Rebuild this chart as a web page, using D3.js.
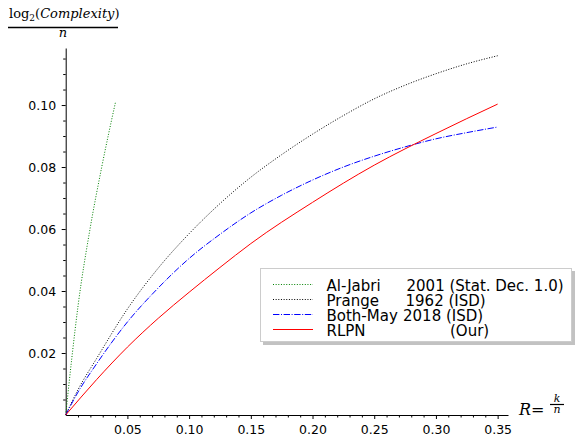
<!DOCTYPE html>
<html>
<head>
<meta charset="utf-8">
<script src="https://d3js.org/d3.v7.min.js"></script>
<style>
  body { margin: 0; background: #fff; }
  svg { display: block; }
  text { font-family: "DejaVu Sans", sans-serif; }
  .math { font-family: "DejaVu Serif", serif; }
</style>
</head>
<body>
<svg width="578" height="436"></svg>
<script>
// R = k/n on x, log2(complexity)/n on y
const alJabriR = [0, 0.005, 0.0101, 0.0197, 0.0292, 0.0405];
const alJabriV = [0, 0.0185, 0.0355, 0.060, 0.080, 0.1012];

const rates = [0, 0.01, 0.025, 0.05, 0.075, 0.1, 0.125, 0.15, 0.175, 0.2, 0.225, 0.25, 0.275, 0.3, 0.325, 0.35];
const prangeV = [0, 0.0082, 0.0182, 0.0342, 0.0474, 0.0585, 0.0682, 0.0767, 0.0840, 0.0906, 0.0966, 0.1020, 0.1064, 0.1101, 0.1133, 0.1159];
const bothMayV = [0, 0.0074, 0.0165, 0.0300, 0.0410, 0.0505, 0.0583, 0.0652, 0.0709, 0.0758, 0.0800, 0.0835, 0.0865, 0.0891, 0.0911, 0.0929];

const rlpnR = [0, 0.025, 0.05, 0.075, 0.1, 0.125, 0.15, 0.2, 0.25, 0.3, 0.35];
const rlpnV = [0, 0.0114, 0.0219, 0.0312, 0.0396, 0.0476, 0.0553, 0.0686, 0.0806, 0.0908, 0.1003];

const legendNames = ["Al-Jabri", "Prange", "Both-May", "RLPN"];
const legendInfo = ["2001 (Stat. Dec. 1.0)", "1962 (ISD)", "2018 (ISD)", "(Our)"];

const xMajor = [0.05, 0.10, 0.15, 0.20, 0.25, 0.30, 0.35];
const yMajor = [0.02, 0.04, 0.06, 0.08, 0.10];

const svg = d3.select("svg");

const x = d3.scaleLinear().domain([0, 0.3584]).range([65.7, 508]);
const y = d3.scaleLinear().domain([0, 0.1184]).range([415, 48]);

// minor ticks
const xMinor = d3.range(1, 36).map(i => i / 100).filter(v => Math.round(v * 100) % 5 !== 0);
const yMinor = d3.range(1, 24).map(i => i / 200).filter(v => Math.round(v * 200) % 4 !== 0);

const gx = svg.append("g").attr("transform", `translate(0,${y(0)})`);
gx.call(d3.axisBottom(x).tickValues(xMajor).tickSize(4).tickSizeOuter(0)
    .tickPadding(6).tickFormat(d3.format(".2f")));
gx.append("g").call(d3.axisBottom(x).tickValues(xMinor).tickSize(2.5).tickFormat(""))
  .select(".domain").remove();

const gy = svg.append("g").attr("transform", `translate(${x(0)},0)`);
gy.call(d3.axisLeft(y).tickValues(yMajor).tickSize(4).tickSizeOuter(0)
    .tickPadding(5.5).tickFormat(d3.format(".2f")));
gy.append("g").call(d3.axisLeft(y).tickValues(yMinor).tickSize(2.5).tickFormat(""))
  .select(".domain").remove();

svg.selectAll(".tick text").attr("font-size", 12.5).attr("font-family", "DejaVu Sans").attr("fill", "#000");
svg.selectAll(".tick line").attr("stroke", "#000");

const line = d3.line().x(d => x(d[0])).y(d => y(d[1])).curve(d3.curveMonotoneX);

const series = [
  {r: alJabriR, v: alJabriV, color: "#008000", dash: "1,1.65"},
  {r: rates, v: prangeV, color: "#000000", dash: "1,1.65"},
  {r: rates, v: bothMayV, color: "#0000ff", dash: "6.4,1.6,1,1.6"},
  {r: rlpnR, v: rlpnV, color: "#ff0000", dash: null}
];

svg.selectAll(".curve")
  .data(series)
  .enter().append("path")
  .attr("class", "curve")
  .attr("d", s => line(s.r.map((r, i) => [r, s.v[i]])))
  .attr("fill", "none")
  .attr("stroke", s => s.color)
  .attr("stroke-width", 1)
  .attr("stroke-dasharray", s => s.dash);

// legend
const lg = svg.append("g");
lg.append("rect").attr("x", 263).attr("y", 271).attr("width", 312).attr("height", 74)
  .attr("fill", "#999").attr("opacity", 0.6);
lg.append("rect").attr("x", 260.5).attr("y", 268.5).attr("width", 311).attr("height", 73)
  .attr("fill", "#fff").attr("stroke", "#ccc");
const infoX = [406.5, 405.5, 403, 450];
series.forEach((s, i) => {
  const base = 291 + i * 15;
  lg.append("line").attr("x1", 273).attr("x2", 313).attr("y1", base - 6.5).attr("y2", base - 6.5)
    .attr("stroke", s.color).attr("stroke-width", 1).attr("stroke-dasharray", s.dash);
  const t = lg.append("text").attr("x", 326.5).attr("y", base).attr("font-size", 15);
  t.append("tspan").text(legendNames[i]);
  t.append("tspan").attr("x", infoX[i]).text(legendInfo[i]);
});

// y label: log2(Complexity) / n
const yl = svg.append("text").attr("class", "math").attr("x", 9).attr("y", 18.3).attr("font-size", 13);
yl.append("tspan").text("log");
yl.append("tspan").attr("font-size", 9).attr("dy", 2.5).text("2");
yl.append("tspan").attr("dy", -2.5).text("(");
yl.append("tspan").attr("font-style", "italic").text("Complexity");
yl.append("tspan").text(")");
svg.append("line").attr("x1", 8).attr("x2", 118).attr("y1", 27.5).attr("y2", 27.5)
  .attr("stroke", "#000").attr("stroke-width", 1.6);
svg.append("text").attr("class", "math").attr("x", 63).attr("y", 36.7).attr("font-size", 13)
  .attr("font-style", "italic").attr("text-anchor", "middle").text("n");

// x label: R = k/n
svg.append("text").attr("class", "math").attr("x", 519).attr("y", 415).attr("font-size", 16)
  .attr("font-style", "italic").text("R");
svg.append("text").attr("class", "math").attr("x", 531).attr("y", 415).attr("font-size", 16).text("=");
svg.append("text").attr("class", "math").attr("x", 557).attr("y", 401.7).attr("font-size", 11)
  .attr("font-style", "italic").attr("text-anchor", "middle").text("k");
svg.append("line").attr("x1", 550).attr("x2", 564).attr("y1", 404.5).attr("y2", 404.5)
  .attr("stroke", "#000").attr("stroke-width", 1.2);
svg.append("text").attr("class", "math").attr("x", 557).attr("y", 413).attr("font-size", 11)
  .attr("font-style", "italic").attr("text-anchor", "middle").text("n");
</script>
</body>
</html>
